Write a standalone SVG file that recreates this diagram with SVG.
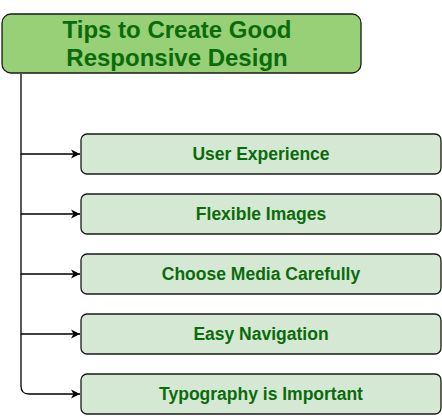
<svg xmlns="http://www.w3.org/2000/svg" width="442" height="420" viewBox="0 0 442 420">
<style>
.child rect{fill:#d5e8d4;stroke:#1a1a1a;stroke-width:1.3}
.child text{font-family:"Liberation Sans",Arial,sans-serif;font-weight:bold;font-size:17.5px;fill:#0a6b0a;text-anchor:middle}
.title text{font-family:"Liberation Sans",Arial,sans-serif;font-weight:bold;font-size:24px;fill:#0a6b0a;text-anchor:middle}
.conn{fill:none;stroke:#000;stroke-width:1.3}
</style>
<defs>
<marker id="arr" markerWidth="10" markerHeight="10" refX="9" refY="5" orient="auto" markerUnits="userSpaceOnUse">
<path d="M0,0.5 L9,5 L0,9.5 L2.5,5 Z" fill="#000"/>
</marker>
</defs>
<rect width="442" height="420" fill="#fff"/>
<g id="connectors">
<path class="conn" d="M21,74 V154 H80" marker-end="url(#arr)"/>
<path class="conn" d="M21,154 V214 H80" marker-end="url(#arr)"/>
<path class="conn" d="M21,214 V274 H80" marker-end="url(#arr)"/>
<path class="conn" d="M21,274 V334 H80" marker-end="url(#arr)"/>
<path class="conn" d="M21,334 V386 Q21,394 29,394 H80" marker-end="url(#arr)"/>
</g>
<g id="title" class="title">
<rect x="2" y="14" width="359" height="59" rx="9" fill="#97d077" stroke="#1a1a1a" stroke-width="1.3"/>
<text x="177" y="38">Tips to Create Good</text>
<text x="177" y="66">Responsive Design</text>
</g>
<g id="n1" class="child"><rect x="81" y="134" width="360" height="40" rx="6"/><text x="261" y="160">User Experience</text></g>
<g id="n2" class="child"><rect x="81" y="194" width="360" height="40" rx="6"/><text x="261" y="220">Flexible Images</text></g>
<g id="n3" class="child"><rect x="81" y="254" width="360" height="40" rx="6"/><text x="261" y="280">Choose Media Carefully</text></g>
<g id="n4" class="child"><rect x="81" y="314" width="360" height="40" rx="6"/><text x="261" y="340">Easy Navigation</text></g>
<g id="n5" class="child"><rect x="81" y="374" width="360" height="40" rx="6"/><text x="261" y="400">Typography is Important</text></g>
</svg>
